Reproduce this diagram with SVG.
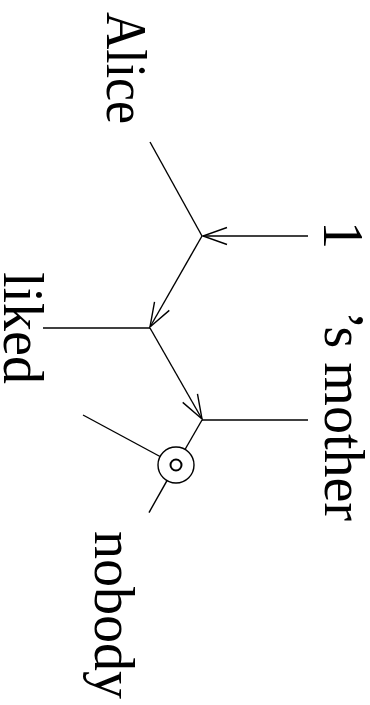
<svg xmlns="http://www.w3.org/2000/svg" width="370" height="705" viewBox="0 0 370 705">
  <style>
    .edge { stroke: #000; stroke-width: 1.4; fill: none; }
    .lbl { font-family: "Liberation Serif", "Times New Roman", serif; font-size: 56px; fill: #000; }
    .ring { stroke: #000; stroke-width: 1.4; fill: #fff; }
    .dot { stroke: #000; stroke-width: 2; fill: none; }
  </style>
  <defs>
    <marker id="chev" markerUnits="userSpaceOnUse" markerWidth="30" markerHeight="22" viewBox="-26 -11 30 22" refX="0" refY="0" orient="auto">
      <path d="M-24,-8.5 L0,0 L-24,8.5" stroke="#000" stroke-width="1.4" fill="none"/>
    </marker>
  </defs>

  <g id="connectors">
    <line class="edge" x1="150" y1="142" x2="202" y2="236"/>
    <line class="edge" x1="308" y1="236" x2="203" y2="236" marker-end="url(#chev)"/>
    <line class="edge" x1="202" y1="236" x2="150" y2="327" marker-end="url(#chev)"/>
    <line class="edge" x1="43" y1="328" x2="150" y2="328"/>
    <line class="edge" x1="150" y1="328" x2="202" y2="419" marker-end="url(#chev)"/>
    <line class="edge" x1="202" y1="420" x2="308" y2="420"/>
    <line class="edge" x1="202" y1="420" x2="185" y2="449.5"/>
    <line class="edge" x1="83" y1="415" x2="160" y2="456.5"/>
    <line class="edge" x1="167" y1="480.6" x2="149" y2="512.6"/>
  </g>

  <g id="node-alice">
    <text class="lbl" transform="translate(107,12) rotate(90)" textLength="112" lengthAdjust="spacingAndGlyphs">Alice</text>
  </g>
  <g id="node-one">
    <text class="lbl" transform="translate(324,221) rotate(90)">1</text>
  </g>
  <g id="node-liked">
    <text class="lbl" transform="translate(4,272) rotate(90)">liked</text>
  </g>
  <g id="node-mother">
    <text class="lbl" transform="translate(325,311) rotate(90)">’s mother</text>
  </g>
  <g id="node-nobody">
    <text class="lbl" transform="translate(95,531) rotate(90)">nobody</text>
  </g>
  <g id="node-neg">
    <circle class="ring" cx="176" cy="465" r="18"/>
    <circle class="dot" cx="176" cy="465" r="5.5"/>
  </g>
</svg>
